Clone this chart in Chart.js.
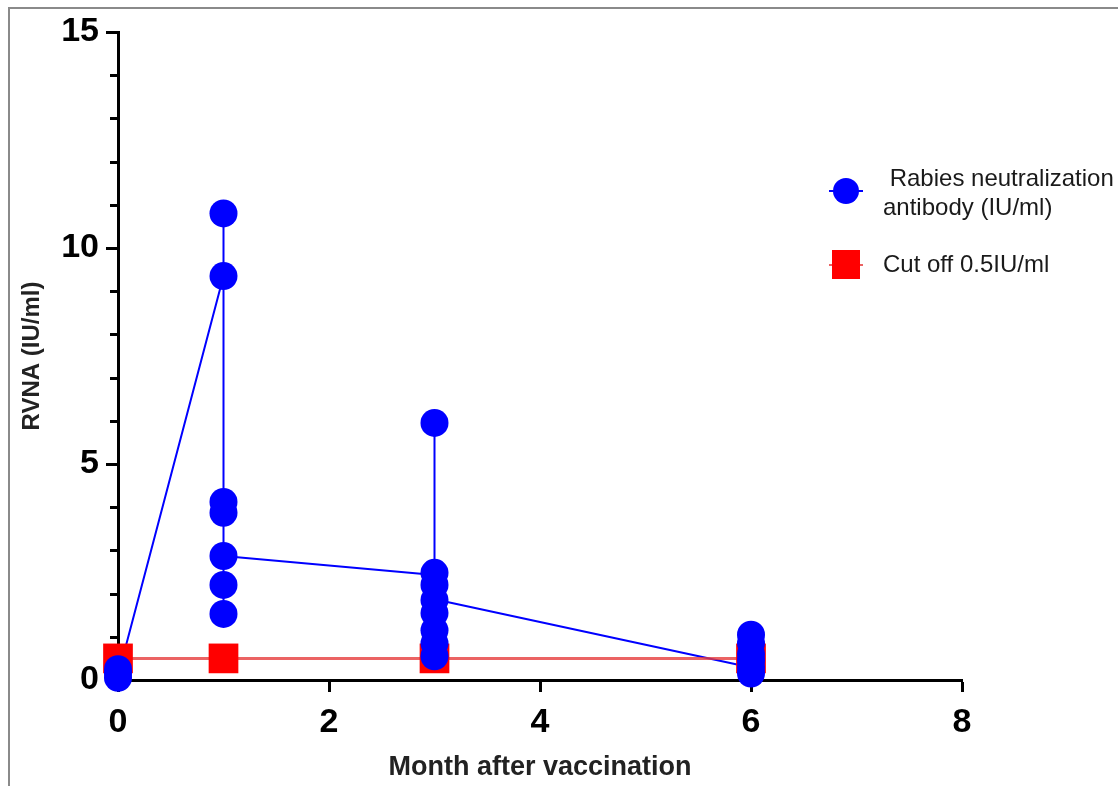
<!DOCTYPE html>
<html>
<head>
<meta charset="utf-8">
<script src="https://cdn.jsdelivr.net/npm/chart.js@4.4.1/dist/chart.umd.min.js"></script>
<style>
  html, body { margin: 0; padding: 0; background: #fff; }
  #wrap { position: relative; width: 1118px; height: 786px; overflow: hidden; }
  #frame { position: absolute; left: 8px; top: 7px; width: 1200px; height: 900px;
           border-left: 2px solid #8a8a8a; border-top: 2px solid #8a8a8a; pointer-events: none; }
  canvas { position: absolute; left: 0; top: 0; }
</style>
</head>
<body>
<div id="wrap">
  <canvas id="c" width="1118" height="786"></canvas>
  <div id="frame"></div>
</div>
<script>
// ---- data ----
const months = [0, 1, 3, 6];
const rvnaMonth0 = [0.25, 0.15, 0.05];
const rvnaMonth1 = [10.8, 9.35, 4.12, 3.87, 2.87, 2.2, 1.53];
const rvnaMonth3 = [5.95, 2.48, 2.2, 1.85, 1.55, 1.15, 0.85, 0.55];
const rvnaMonth6 = [1.05, 0.85, 0.6, 0.45, 0.3, 0.15];
const cutoff = [0.5, 0.5, 0.5, 0.5];
// connecting line drawn between subjects (null = gap)
const linkX = [0, 1, null, 1, 3, null, 3, 6];
const linkY = [0.1, 9.35, null, 2.87, 2.43, null, 1.87, 0.29];
const yMajorTicks = [0, 5, 10, 15];
const yMinorTicks = [1, 2, 3, 4, 6, 7, 8, 9, 11, 12, 13, 14];
const xTicks = [0, 2, 4, 6, 8];
const legendLabels = [[' Rabies neutralization', 'antibody (IU/ml)'], ['Cut off 0.5IU/ml']];

const BLUE = '#0000ff';
const RED = '#ff0000';
const FONT = "'Liberation Sans', Arial, sans-serif";

const groups = [rvnaMonth0, rvnaMonth1, rvnaMonth3, rvnaMonth6];
const pointData = [];
groups.forEach((g, i) => g.forEach(v => pointData.push({ x: months[i], y: v })));

const rangeData = [];
groups.forEach((g, i) => {
  rangeData.push({ x: months[i], y: Math.max(...g) });
  rangeData.push({ x: months[i], y: Math.min(...g) });
  rangeData.push({ x: months[i], y: null });
});

const linkData = linkX.map((x, i) => ({ x: x === null ? NaN : x, y: linkY[i] }));
const cutData = months.map((m, i) => ({ x: m, y: cutoff[i] }));

const decor = {
  id: 'decor',
  afterDraw(chart) {
    const ctx = chart.ctx;
    const ys = chart.scales.y;
    const left = chart.chartArea.left;
    ctx.save();
    ctx.strokeStyle = '#000';
    ctx.lineWidth = 3;
    yMinorTicks.forEach(v => {
      const py = Math.round(ys.getPixelForValue(v)) + 0.5;
      ctx.beginPath();
      ctx.moveTo(left - 8, py);
      ctx.lineTo(left, py);
      ctx.stroke();
    });
    // legend
    const lx = 846;
    // blue entry
    ctx.strokeStyle = BLUE; ctx.lineWidth = 2;
    ctx.beginPath(); ctx.moveTo(lx - 17, 191); ctx.lineTo(lx + 17, 191); ctx.stroke();
    ctx.fillStyle = BLUE;
    ctx.beginPath(); ctx.arc(lx, 191, 13, 0, Math.PI * 2); ctx.fill();
    // red entry
    ctx.strokeStyle = 'rgba(230,60,60,0.8)'; ctx.lineWidth = 2;
    ctx.beginPath(); ctx.moveTo(lx - 17, 265); ctx.lineTo(lx + 17, 265); ctx.stroke();
    ctx.fillStyle = RED;
    ctx.fillRect(lx - 14, 250, 28, 29);
    ctx.fillStyle = '#1a1a1a';
    ctx.font = '24px ' + FONT;
    ctx.textBaseline = 'middle';
    ctx.textAlign = 'left';
    ctx.fillText(legendLabels[0][0], 883, 179);
    ctx.fillText(legendLabels[0][1], 883, 208);
    ctx.fillText(legendLabels[1][0], 883, 265);
    ctx.restore();
  }
};

new Chart(document.getElementById('c'), {
  type: 'scatter',
  data: {
    datasets: [
      {
        label: 'Rabies neutralization antibody (IU/ml)',
        data: pointData,
        showLine: false,
        pointStyle: 'circle',
        pointRadius: 14,
        pointHoverRadius: 14,
        backgroundColor: BLUE,
        borderColor: BLUE,
        borderWidth: 0,
        clip: false,
        order: 0
      },
      {
        label: 'Cut off 0.5IU/ml',
        data: cutData,
        showLine: true,
        pointStyle: 'rect',
        pointRadius: 21,
        pointHoverRadius: 21,
        backgroundColor: RED,
        pointBorderWidth: 0,
        borderColor: 'rgba(230,60,60,0.8)',
        borderWidth: 3,
        clip: false,
        order: 1
      },
      {
        label: 'range',
        data: rangeData,
        showLine: true,
        spanGaps: false,
        pointRadius: 0,
        borderColor: BLUE,
        borderWidth: 2,
        clip: false,
        order: 2
      },
      {
        label: 'link',
        data: linkData,
        showLine: true,
        spanGaps: false,
        pointRadius: 0,
        borderColor: BLUE,
        borderWidth: 2,
        clip: false,
        order: 2
      }
    ]
  },
  options: {
    responsive: false,
    animation: false,
    devicePixelRatio: 1,
    layout: { padding: { left: 0, top: 32, right: 156, bottom: 0 } },
    plugins: { legend: { display: false }, tooltip: { enabled: false } },
    scales: {
      x: {
        type: 'linear',
        min: 0, max: 8,
        afterFit: s => { s.height = 106; },
        afterBuildTicks: s => { s.ticks = xTicks.map(v => ({ value: v })); },
        grid: { drawOnChartArea: false, drawTicks: true, tickLength: 12, tickWidth: 3, tickColor: '#000' },
        border: { display: true, color: '#000', width: 3 },
        ticks: { color: '#000', font: { family: FONT, size: 34, weight: 'bold' }, padding: 10, maxRotation: 0 },
        title: { display: true, text: 'Month after vaccination', color: '#222',
                 font: { family: FONT, size: 27, weight: 'bold' }, padding: { top: 0, bottom: 2 } }
      },
      y: {
        type: 'linear',
        min: 0, max: 15,
        afterFit: s => { s.width = 118; },
        afterBuildTicks: s => { s.ticks = yMajorTicks.map(v => ({ value: v })); },
        grid: { drawOnChartArea: false, drawTicks: true, tickLength: 12, tickWidth: 3, tickColor: '#000' },
        border: { display: true, color: '#000', width: 3 },
        ticks: { color: '#000', font: { family: FONT, size: 34, weight: 'bold' }, padding: 7 },
        title: { display: true, text: 'RVNA (IU/ml)', color: '#222',
                 font: { family: FONT, size: 24, weight: 'bold' }, padding: { top: 18, bottom: 0 } }
      }
    }
  },
  plugins: [decor]
});
</script>
</body>
</html>
